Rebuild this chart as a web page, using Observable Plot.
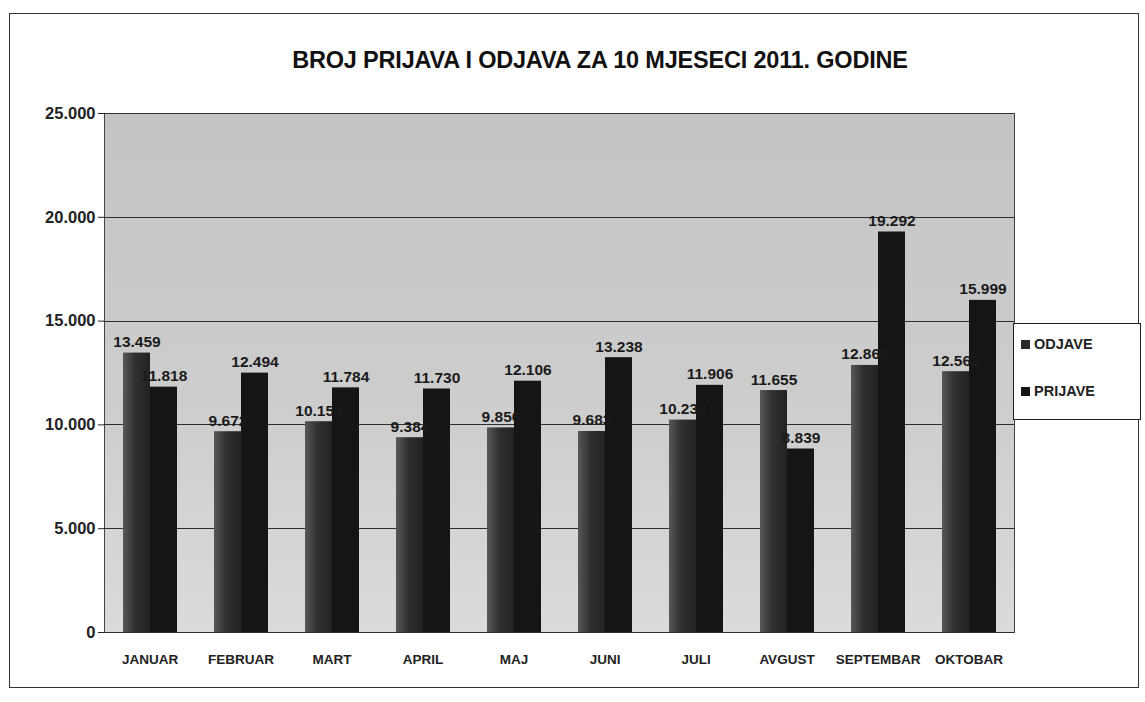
<!DOCTYPE html>
<html>
<head>
<meta charset="utf-8">
<script src="https://cdn.jsdelivr.net/npm/d3@7"></script>
<script src="https://cdn.jsdelivr.net/npm/@observablehq/plot@0.6"></script>
<style>
  body { margin: 0; background: #fff; font-family: "Liberation Sans", Arial, sans-serif; }
  #page { position: relative; width: 1145px; height: 702px; overflow: hidden; background: #fff; }
  #frame { position: absolute; left: 9px; top: 13px; width: 1128px; height: 673px; border: 1.5px solid #333; }
  #title { position: absolute; left: 0; width: 1200px; top: 47px; text-align: center; font-weight: bold; font-size: 23.5px; color: #111; letter-spacing: -0.2px; }
  #chart { position: absolute; left: 0; top: 100px; }
  #legend { position: absolute; left: 1013px; top: 323px; width: 126px; height: 95px; border: 1px solid #222; background: #fff; font-weight: bold; font-size: 14.5px; color: #222; }
  #legend .item { position: absolute; left: 7px; display: flex; align-items: center; }
  #legend .sw { display: inline-block; width: 9px; height: 9px; margin-right: 4px; }
</style>
</head>
<body>
<div id="page">
  <div id="frame"></div>
  <div id="title"></div>
  <div id="chart"></div>
  <div id="legend"></div>
</div>
<script>
const title = "BROJ PRIJAVA I ODJAVA ZA 10 MJESECI 2011. GODINE";
const months = ["JANUAR", "FEBRUAR", "MART", "APRIL", "MAJ", "JUNI", "JULI", "AVGUST", "SEPTEMBAR", "OKTOBAR"];
const series = ["ODJAVE", "PRIJAVE"];
const odjave = [13459, 9672, 10153, 9384, 9856, 9683, 10232, 11655, 12864, 12563];
const prijave = [11818, 12494, 11784, 11730, 12106, 13238, 11906, 8839, 19292, 15999];
const yTicks = [0, 5000, 10000, 15000, 20000, 25000];
const seriesColors = ["url(#odjGrad)", "#151515"];
const legendColors = ["#2a2a2a", "#151515"];

const data = months.flatMap((m, i) => [
  {month: m, series: series[0], value: odjave[i]},
  {month: m, series: series[1], value: prijave[i]}
]);
const fmt = v => d3.format(",")(v).replace(/,/g, ".");

document.getElementById("title").textContent = title;

const W = 1022, ML = 104, MR = 8;

const chart = Plot.plot({
  width: W,
  height: 580,
  marginLeft: ML,
  marginRight: MR,
  marginTop: 13,
  marginBottom: 48,
  style: {fontFamily: "'Liberation Sans', Arial, sans-serif", background: "transparent", color: "#222"},
  fx: {domain: months, paddingInner: 0, paddingOuter: 0, label: null},
  x: {domain: series, paddingInner: 0, paddingOuter: 0.667, axis: null},
  y: {domain: [0, 25000], label: null},
  color: {domain: series, range: seriesColors},
  marks: [
    Plot.frame({facet: "super", fill: "url(#bgGrad)", stroke: "#444"}),
    Plot.barY(data, {fx: "month", x: "series", y: "value", fill: "series"}),
    Plot.text(data, {fx: "month", x: "series", y: "value", text: d => fmt(d.value), dy: -11, fontWeight: "bold", fontSize: 15.5, fill: "#1a1a1a"}),
    Plot.axisY({ticks: yTicks, tickFormat: fmt, tickSize: 6, tickPadding: 3, fontSize: 16.5, fontWeight: "bold", label: null}),
    Plot.axisFx({anchor: "bottom", tickSize: 0, tickPadding: 22, fontSize: 13.5, fontWeight: "bold", label: null})
  ]
});

const svg = chart.tagName.toLowerCase() === "svg" ? chart : chart.querySelector("svg");

// gradients (bar shading and plot background)
const defs = d3.create("svg:defs");
const g1 = defs.append("linearGradient").attr("id", "odjGrad").attr("x1", 0).attr("x2", 1).attr("y1", 0).attr("y2", 0);
[["0%", "#585858"], ["45%", "#303030"], ["100%", "#222"]].forEach(([o, c]) => g1.append("stop").attr("offset", o).attr("stop-color", c));
const g2 = defs.append("linearGradient").attr("id", "bgGrad").attr("x1", 0).attr("x2", 0).attr("y1", 0).attr("y2", 1);
[["0%", "#c4c4c4"], ["60%", "#cecece"], ["100%", "#dbdbdb"]].forEach(([o, c]) => g2.append("stop").attr("offset", o).attr("stop-color", c));
svg.insertBefore(defs.node(), svg.firstChild);

// full-width horizontal gridlines from the chart's y scale, placed right above the background
const yScale = chart.scale("y");
const frameEl = svg.querySelector('[aria-label="frame"]');
const grid = d3.create("svg:g").attr("aria-label", "grid");
for (const t of yTicks) {
  const yy = Math.round(yScale.apply(t)) + 0.5;
  grid.append("line")
    .attr("x1", ML).attr("x2", W - MR)
    .attr("y1", yy).attr("y2", yy)
    .attr("stroke", "#2e2e2e").attr("stroke-width", 1);
}
frameEl.after(grid.node());

document.getElementById("chart").appendChild(chart);

const legend = document.getElementById("legend");
series.forEach((s, i) => {
  const item = document.createElement("div");
  item.className = "item";
  item.style.top = (12 + i * 47) + "px";
  const sw = document.createElement("span");
  sw.className = "sw";
  sw.style.background = legendColors[i];
  item.appendChild(sw);
  item.appendChild(document.createTextNode(s));
  legend.appendChild(item);
});
</script>
</body>
</html>
